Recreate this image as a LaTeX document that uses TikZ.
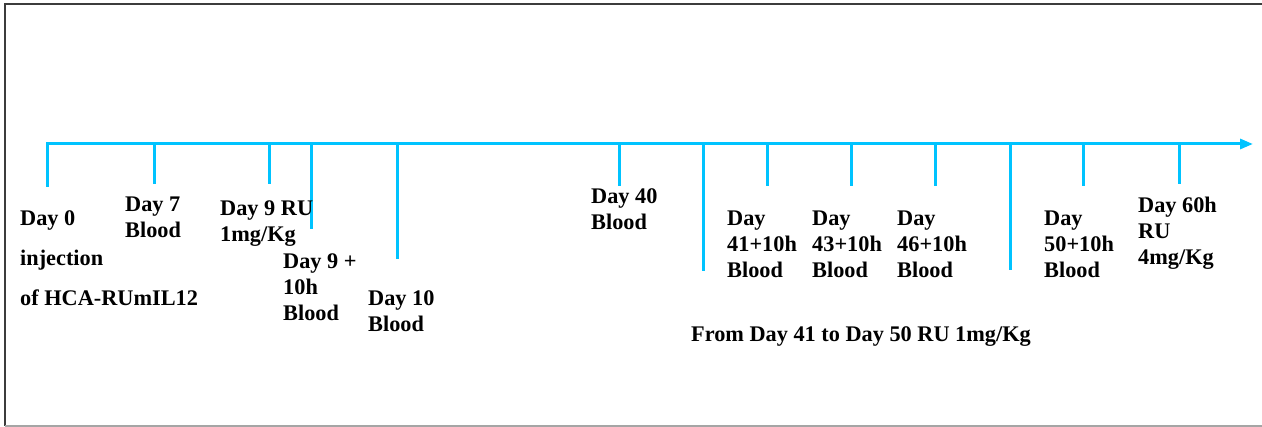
\documentclass[tikz,border=0pt]{standalone}
\usepackage{fontspec}
\setmainfont{Liberation Serif}
\usetikzlibrary{arrows.meta}
\definecolor{axiscol}{RGB}{0,195,255}
\definecolor{framedark}{RGB}{60,60,60}
\definecolor{framelight}{RGB}{165,165,165}
\begin{document}
\begin{tikzpicture}[x=1pt,y=-1pt,
  axisline/.style={draw=axiscol,line width=3pt},
  tick/.style={draw=axiscol,line width=3pt},
  lbl/.style={anchor=north west,inner sep=0pt,align=left,
    font=\bfseries\fontsize{22.3}{26}\selectfont},
  lblwide/.style={anchor=north west,inner sep=0pt,align=left,
    font=\bfseries\fontsize{22.3}{40}\selectfont}]
\useasboundingbox (0,0) rectangle (1262,427);
% frame
\draw[framedark,line width=2pt] (4,4) -- (1262,4);
\draw[framedark,line width=2pt] (5,4) -- (5,426);
\draw[framelight,line width=1.5pt] (5,426) -- (1262,426);
% axis
\coordinate (a0) at (46,144);
\coordinate (aend) at (1253,144);
\draw[axisline,-{Triangle[length=13pt,width=10pt]}] (a0) -- (aend);
% ticks
\foreach \n/\x/\yb in {t0/47/187, t1/154/184, t2/269/184, t3/311/229, t4/397/259,
  t5/619/186, t6/703/271, t7/767/186, t8/851/186, t9/935/186, t10/1010/270,
  t11/1083/186, t12/1179/184}{
  \coordinate (\n) at (\x,144);
  \coordinate (\n e) at (\x,\yb);
  \draw[tick] (\n) -- (\n e);
}
% labels
\node[lblwide] (l0) at (20,210) {Day 0\\injection\\of HCA-RUmIL12};
\node[lbl] (l1) at (125,197) {Day 7\\Blood};
\node[lbl] (l2) at (220,201) {Day 9 RU\\1mg/Kg};
\node[lbl] (l3) at (283,254) {Day 9 +\\10h\\Blood};
\node[lbl] (l4) at (368,290) {Day 10\\Blood};
\node[lbl] (l5) at (591,188) {Day 40\\Blood};
\node[lbl] (l6) at (727,211) {Day\\41+10h\\Blood};
\node[lbl] (l7) at (812,211) {Day\\43+10h\\Blood};
\node[lbl] (l8) at (897,211) {Day\\46+10h\\Blood};
\node[lbl] (l9) at (1044,211) {Day\\50+10h\\Blood};
\node[lbl] (l10) at (1138,197) {Day 60h\\RU\\4mg/Kg};
\node[lbl] (l11) at (691,326) {From Day 41 to Day 50 RU 1mg/Kg};
\end{tikzpicture}
\end{document}
